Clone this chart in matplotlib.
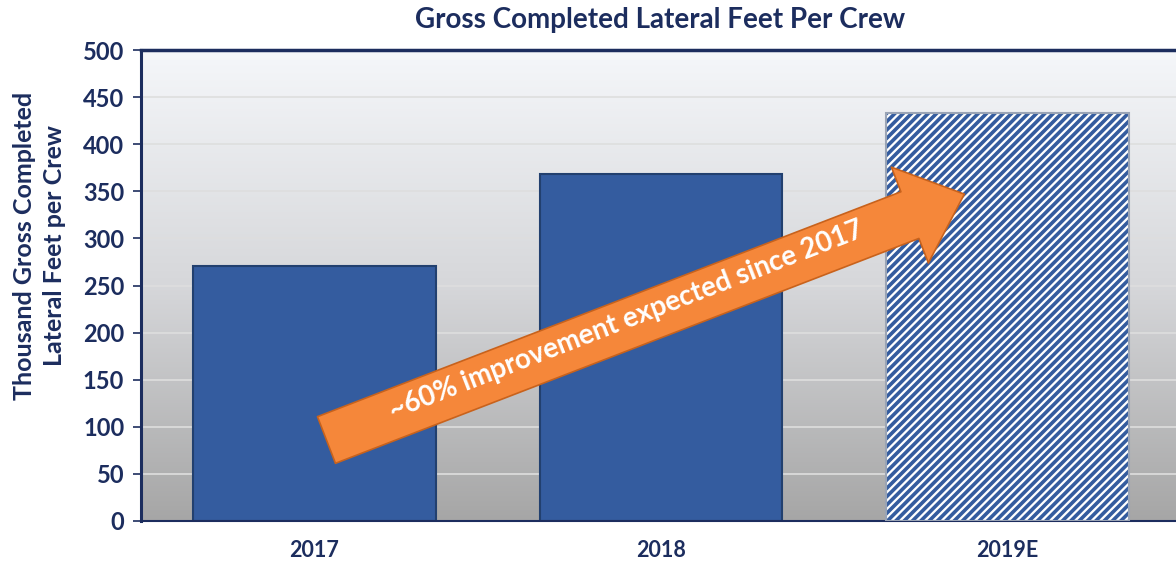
# Gross completed lateral feet per crew - bar chart with growth arrow
import numpy as np
import matplotlib.pyplot as plt
from matplotlib.colors import LinearSegmentedColormap

# Data
years = ['2017', '2018', '2019E']
feet_per_crew = [271, 368, 433]
is_estimate = [False, False, True]
y_ticks = [0, 50, 100, 150, 200, 250, 300, 350, 400, 450, 500]
arrow_text = '~60% improvement expected since 2017'

navy = '#1c2d5e'
bar_blue = '#345c9f'

plt.rcParams['font.family'] = ['Lato', 'DejaVu Sans']
plt.rcParams['hatch.linewidth'] = 2.6

fig = plt.figure(figsize=(11.76, 5.67), dpi=100)
ax = fig.add_axes([141 / 1176, 46 / 567, 1040 / 1176, 471 / 567])

x = np.arange(len(years))
ax.set_xlim(-0.5, len(years) - 0.5)
ax.set_ylim(0, 500)

# Gradient background: light at top, grey at bottom
bg = LinearSegmentedColormap.from_list('bg', ['#a6a6a6', '#d6d7da', '#f5f7fa'])
grad = np.linspace(0, 1, 256).reshape(-1, 1)
ax.imshow(grad, cmap=bg, aspect='auto', origin='lower',
          extent=[-0.5, len(years) - 0.5, 0, 500], zorder=0)

ax.set_yticks(y_ticks)
ax.set_axisbelow(True)
ax.grid(axis='y', color='#dedede', linewidth=1.2)

# Bars
for xi, val, est in zip(x, feet_per_crew, is_estimate):
    if est:
        ax.bar(xi, val, width=0.7, color='white', edgecolor=bar_blue,
               hatch='////', linewidth=0, zorder=2)
        ax.bar(xi, val, width=0.7, color='none', edgecolor='#9aa4b5',
               linewidth=1.5, zorder=3)
    else:
        ax.bar(xi, val, width=0.7, color=bar_blue, edgecolor='#22406f',
               linewidth=1.5, zorder=2)

# Growth arrow from 2017 towards the 2019E bar
tail = (x[0] + 0.035, 86)
tip = (x[2] - 0.125, 347)
ax.annotate('', xy=tip, xytext=tail, zorder=4,
            arrowprops=dict(arrowstyle='simple,head_length=4.2,head_width=7.4,tail_width=3.6',
                            mutation_scale=10, fc='#f5873a', ec='#c8621c', lw=1.2,
                            shrinkA=0, shrinkB=0))
ax.text(x[1] - 0.1, 213, arrow_text, rotation=21.2, color='white', fontsize=20,
        fontweight='bold', ha='center', va='center', rotation_mode='anchor', zorder=5)

# Axes styling
for side in ['left', 'top', 'bottom']:
    ax.spines[side].set_color(navy)
ax.spines['left'].set_linewidth(2.2)
ax.spines['top'].set_linewidth(2.5)
ax.spines['bottom'].set_linewidth(1.5)
ax.spines['right'].set_visible(False)

ax.set_xticks(x)
ax.set_xticklabels(years, fontsize=15.5, fontweight='bold', color=navy)
ax.tick_params(axis='x', length=0, pad=14)
ax.tick_params(axis='y', length=6, width=1.2, color=navy, labelsize=17,
               labelcolor=navy, pad=6)
for lbl in ax.get_yticklabels():
    lbl.set_fontweight('bold')

ax.set_ylabel('Thousand Gross Completed\nLateral Feet per Crew', fontsize=18,
              fontweight='bold', color=navy, linespacing=1.4)
ax.yaxis.set_label_coords(-0.072, 0.585)
fig.text(660 / 1176, 1 - 20 / 567, 'Gross Completed Lateral Feet Per Crew',
         ha='center', va='center', fontsize=20, fontweight='bold', color=navy)

fig.savefig('out.png', dpi=100)
